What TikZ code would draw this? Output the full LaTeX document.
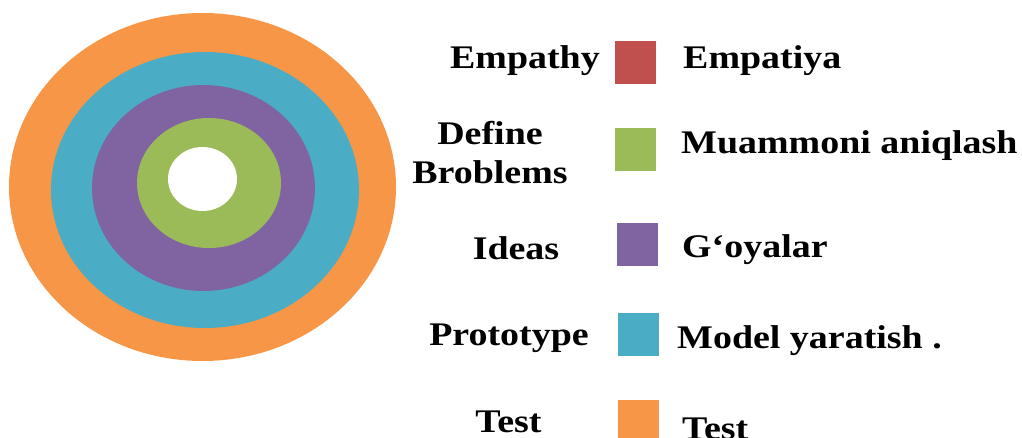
\documentclass[tikz,border=0pt]{standalone}
\usepackage{fontspec}
\newfontfamily\lblfont{Liberation Serif Bold}[FakeStretch=1.15]

\definecolor{empred}{HTML}{C0504D}
\definecolor{defgreen}{HTML}{9BBB59}
\definecolor{ideapurple}{HTML}{8064A2}
\definecolor{protoblue}{HTML}{4BACC6}
\definecolor{testorange}{HTML}{F79646}

\begin{document}
\begin{tikzpicture}[x=1pt, y=-1pt,
		swatch/.style={minimum width=41pt, minimum height=43pt, inner sep=0pt},
		lbl/.style={font=\lblfont\fontsize{33}{39}\selectfont, inner sep=0pt, anchor=base},
		uzlbl/.style={lbl, anchor=base west}]
		\useasboundingbox (0,0) rectangle (1022,438);

		% rings, outside in
		\fill[testorange] (202.5,187) ellipse [x radius=193.5pt, y radius=174pt];
		\fill[protoblue] (205,190) ellipse [x radius=154pt, y radius=138pt];
		\fill[ideapurple] (203.5,188) ellipse [x radius=111.5pt, y radius=103pt];
		\fill[defgreen] (209,183) ellipse [x radius=72pt, y radius=65pt];
		\fill[white] (202.5,179) ellipse [x radius=34.5pt, y radius=32pt];

		% legend
		\node[swatch, fill=empred] (sqemp) at (635.5,62.5) {};
		\node[swatch, fill=defgreen] (sqdef) at (635.5,150) {};
		\node[swatch, fill=ideapurple] (sqidea) at (637.5,244.5) {};
		\node[swatch, fill=protoblue] (sqproto) at (638.5,334.5) {};
		\node[swatch, fill=testorange] (sqtest) at (638.5,421.5) {};

		\node[lbl, anchor=base east] (enemp) at (600,69) {Empathy};
		\node[lbl, anchor=center, align=center] (endef) at (490,152.5) {Define\\Broblems};
		\node[lbl] (enidea) at (516,259) {Ideas};
		\node[lbl] (enproto) at (509,345) {Prototype};
		\node[lbl] (entest) at (508.5,432) {Test};

		\node[uzlbl] (uzemp) at (683,69) {Empatiya};
		\node[uzlbl] (uzdef) at (681,154) {Muammoni aniqlash};
		\node[uzlbl] (uzidea) at (682,258) {G‘oyalar};
		\node[uzlbl] (uzproto) at (677,348) {Model yaratish .};
		\node[uzlbl] (uztest) at (682,439) {Test};
	\end{tikzpicture}
\end{document}
